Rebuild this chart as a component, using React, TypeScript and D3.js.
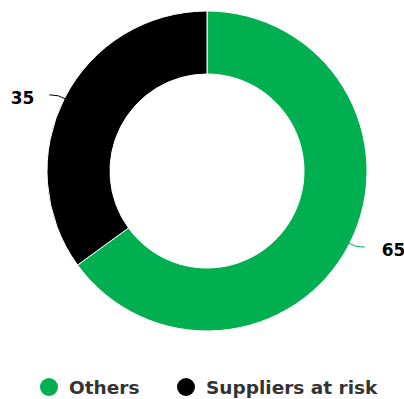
import React from "react";
import * as d3 from "d3";

const categories = ["Others", "Suppliers at risk"];
const values = [65, 35];
const colors = ["#00b050", "#000000"];

export default function App() {
  const W = 404, H = 399;
  const cx = 207, cy = 171, R = 160, r = 97;
  const pie = d3.pie<number>().sort(null).value((d) => d)(values);
  const arc = d3.arc<d3.PieArcDatum<number>>().innerRadius(r).outerRadius(R);
  return (
    <svg width={W} height={H} style={{ position: "absolute", left: 0, top: 0, fontFamily: "DejaVu Sans" }}>
      <g transform={`translate(${cx},${cy})`}>
        {pie.map((p, i) => (
          <path key={i} d={arc(p) || ""} fill={colors[i]} stroke="#ffffff" strokeWidth={1} />
        ))}
        {pie.map((p, i) => {
          const a = (p.startAngle + p.endAngle) / 2;
          const sx = Math.sin(a) * (R - 1), sy = -Math.cos(a) * (R - 1);
          const right = Math.sin(a) > 0;
          const dir = right ? 1 : -1;
          const vdir = sy > 0 ? 1 : -1;
          const ex = sx + dir * 16, ey = sy + vdir * 4;
          const mx = sx + dir * 6, my = sy + vdir * 4;
          return (
            <g key={"l" + i}>
              <path d={`M${sx},${sy} Q${mx},${my} ${ex},${ey}`} fill="none" stroke={colors[i]} strokeWidth={1} />
              <text x={right ? ex + 17 : ex - 15} y={ey + 4} dominantBaseline="middle" textAnchor={right ? "start" : "end"}
                fontSize={17} fontWeight="bold" fill="#000">{values[i]}</text>
            </g>
          );
        })}
      </g>
      {categories.map((c, i) => {
        const x0 = i === 0 ? 49 : 186;
        return (
          <g key={c}>
            <circle cx={x0} cy={387} r={9} fill={colors[i]} />
            <text x={x0 + 20} y={394} fontSize={18.5} fontWeight="bold" fill="#333333">{c}</text>
          </g>
        );
      })}
    </svg>
  );
}
